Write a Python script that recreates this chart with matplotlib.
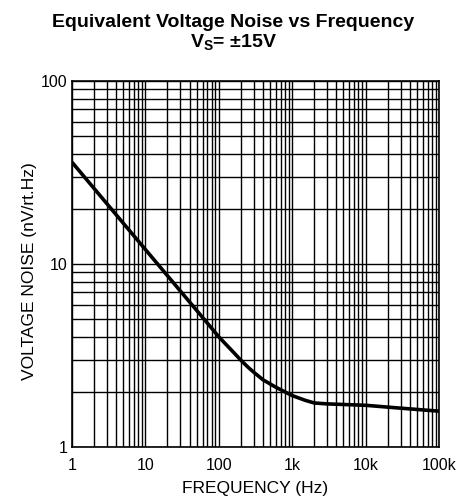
import numpy as np
import matplotlib
matplotlib.use("Agg")
import matplotlib.pyplot as plt
from matplotlib.ticker import LogLocator, FixedLocator, NullFormatter

plt.rcParams['font.family'] = ['Liberation Sans', 'DejaVu Sans']

# values
freq_hz = [1, 10, 70, 100, 130, 160, 200, 250, 300, 400, 600, 800, 1000, 1500,
           2000, 3000, 10000, 30000, 100000]
noise_nv = [36, 12, 4.75, 4.0, 3.58, 3.28, 2.98, 2.73, 2.56, 2.33, 2.12, 2.0,
            1.91, 1.80, 1.74, 1.72, 1.69, 1.63, 1.57]

x_ticks = [1, 10, 100, 1000, 10000, 100000]
x_labels = ["1", "10", "100", "1k", "10k", "100k"]
y_ticks = [1, 10, 100]
y_labels = ["1", "10", "100"]

fig = plt.figure(figsize=(4.66, 5.04), dpi=100)
ax = fig.add_axes([0.1545, 0.1131, 0.7875, 0.7262])

ax.set_xscale("log")
ax.set_yscale("log")
ax.set_xlim(1, 100000)
ax.set_ylim(1, 100)

ax.plot(freq_hz, noise_nv, color="black", lw=2.6, solid_capstyle="butt",
        solid_joinstyle="round", zorder=3)

ax.xaxis.set_major_locator(FixedLocator(x_ticks))
ax.set_xticklabels(x_labels)
ax.yaxis.set_major_locator(FixedLocator(y_ticks))
ax.set_yticklabels(y_labels)
ax.xaxis.set_minor_locator(LogLocator(base=10, subs=np.arange(2, 10)))
ax.yaxis.set_minor_locator(LogLocator(base=10, subs=np.arange(2, 10)))
ax.xaxis.set_minor_formatter(NullFormatter())
ax.yaxis.set_minor_formatter(NullFormatter())

ax.grid(True, which="both", color="black", lw=1.0)
ax.tick_params(which="both", length=0, labelsize=11.5, colors="black")
ax.tick_params(axis="x", pad=8)
ax.tick_params(axis="y", pad=3.5)
for s in ax.spines.values():
    s.set_linewidth(1.2)

ax.set_xlabel("FREQUENCY (Hz)", fontsize=12.5)
ax.set_ylabel("VOLTAGE NOISE (nV/rt.Hz)", fontsize=12.5)
ax.xaxis.set_label_coords(0.5, -0.0929)
ax.yaxis.set_label_coords(-0.096, 0.48)

fig.text(0.5, 0.9464, "Equivalent Voltage Noise vs Frequency", ha="center",
         va="baseline", fontsize=14, fontweight="bold")
fig.text(0.5, 0.9054, r"V$_\mathregular{S}$= ±15V", ha="center",
         va="baseline", fontsize=14, fontweight="bold")

fig.savefig("out.png", dpi=100)
